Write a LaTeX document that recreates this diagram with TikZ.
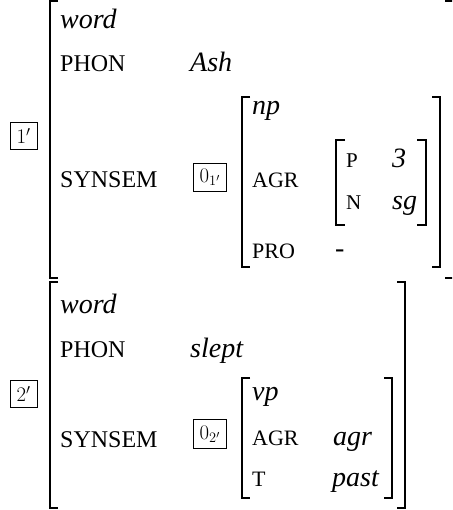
\documentclass[tikz,border=0pt]{standalone}
\usepackage{fontspec}
\setmainfont{Liberation Serif}
\begin{document}
\begin{tikzpicture}[x=1pt,y=-1pt,
  val/.style={anchor=base west, inner sep=0pt, font=\fontsize{28}{30}\selectfont\itshape},
  feat/.style={anchor=base west, inner sep=0pt, font=\fontsize{24}{28}\selectfont},
  feattwo/.style={anchor=base west, inner sep=0pt, font=\fontsize{22}{26}\selectfont},
  featthree/.style={anchor=base west, inner sep=0pt, font=\fontsize{21}{24}\selectfont},
  tag/.style={draw, line width=0.9pt, inner xsep=6.5pt, inner ysep=6pt, font=\fontsize{22}{24}\selectfont},
  brk/.style={line width=2pt, line join=miter},
  ibrk/.style={line width=1.6pt, line join=miter}]
\useasboundingbox (0,0) rectangle (452,510);
\clip (0,0) rectangle (452,510);
% outer structure 1
\draw[brk] (58,1) -- (50,1) -- (50,278) -- (58,278);
\draw[brk] (445,1) -- (455,1) -- (455,278) -- (445,278);
\node[val]  (w1)  at (60,29)  {word};
\node[feat] (ph1) at (60,72)  {PHON};
\node[val]  (ash) at (190,72) {Ash};
\node[feat] (ss1) at (60,188) {SYNSEM};
\node[tag]  (t1)  at (23.5,136) {$1'$};
\node[tag]  (z1)  at (210,177.5) {$0_{1'}$};
% inner np
\draw[ibrk] (250,97) -- (242,97) -- (242,267) -- (250,267);
\draw[ibrk] (432,97) -- (440,97) -- (440,267) -- (432,267);
\node[val]     (np)   at (252,115) {np};
\node[feattwo] (agr1) at (252,188) {AGR};
\node[feattwo] (pro)  at (252,258) {PRO};
\node[val]     (dash) at (335,257) {-};
% agr
\draw[ibrk] (345,140) -- (336,140) -- (336,225) -- (345,225);
\draw[ibrk] (417,140) -- (426,140) -- (426,225) -- (417,225);
\node[featthree] (p)  at (346,168) {P};
\node[val]       (v3) at (392,168) {3};
\node[featthree] (n)  at (346,210) {N};
\node[val]       (sg) at (392,210) {sg};
% outer structure 2
\draw[brk] (58,282) -- (50,282) -- (50,508) -- (58,508);
\draw[brk] (397,282) -- (405,282) -- (405,508) -- (397,508);
\node[val]  (w2)  at (60,313)  {word};
\node[feat] (ph2) at (60,357)  {PHON};
\node[val]  (sl)  at (190,357) {slept};
\node[feat] (ss2) at (60,447) {SYNSEM};
\node[tag]  (t2)  at (23.5,394) {$2'$};
\node[tag]  (z2)  at (210,434) {$0_{2'}$};
% inner vp
\draw[ibrk] (250,378) -- (242,378) -- (242,498) -- (250,498);
\draw[ibrk] (384,378) -- (392,378) -- (392,498) -- (384,498);
\node[val]     (vp)   at (252,400) {vp};
\node[feattwo] (agr2) at (252,445) {AGR};
\node[val]     (agrv) at (333,445) {agr};
\node[feattwo] (tt)   at (252,486) {T};
\node[val]     (past) at (332,486) {past};
\end{tikzpicture}
\end{document}
